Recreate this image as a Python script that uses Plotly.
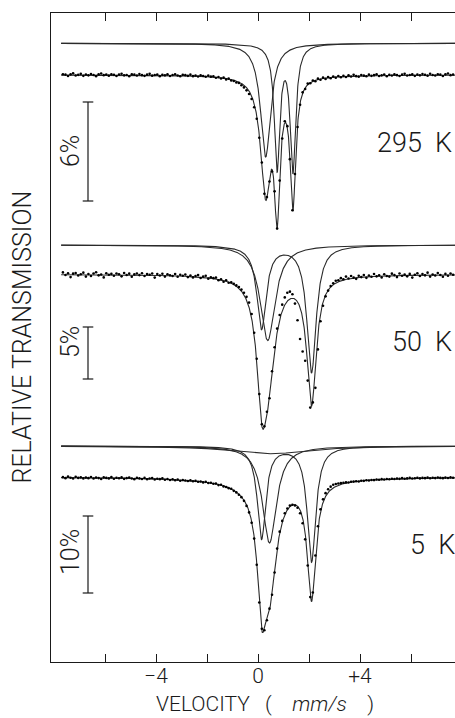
import numpy as np
import plotly.graph_objects as go

# ---------------- data ----------------
# channel velocities (mm/s): equally spaced spectrometer channels
velocity_start = -7.65
velocity_step = 0.10
n_channels = 154
velocity = np.round(velocity_start + velocity_step * np.arange(n_channels), 2)

temperatures = ["295 K", "50 K", "5 K"]
bar_percent = [6, 5, 10]

# relative transmission change (%) per channel
t295 = [
    0.05, 0.02, -0.06, 0.04, 0.10, -0.03, 0.01, 0.07, -0.05, 0.03,
    -0.02, 0.06, 0.00, -0.07, 0.04, 0.09, -0.01, 0.03, -0.04, 0.05,
    0.01, -0.06, 0.03, 0.08, -0.02, 0.00, -0.08, 0.04, 0.02, -0.03,
    0.06, -0.01, -0.05, 0.02, 0.07, -0.04, 0.00, 0.03, -0.07, 0.01,
    -0.02, 0.04, -0.06, 0.00, 0.05, -0.03, -0.08, 0.01, -0.01, -0.05,
    0.02, -0.07, -0.03, -0.09, -0.02, -0.06, -0.11, -0.04, -0.10, -0.08,
    -0.17, -0.12, -0.21, -0.16, -0.27, -0.22, -0.33, -0.36, -0.45, -0.48,
    -0.62, -0.75, -0.93, -1.15, -1.45, -1.95, -2.65, -3.80, -5.30, -7.20,
    -7.40, -6.45, -5.85, -7.05, -9.30, -6.40, -3.85, -2.80, -3.10, -5.10,
    -8.20, -6.00, -3.15, -1.80, -1.05, -0.85, -0.52, -0.50, -0.33, -0.38,
    -0.22, -0.29, -0.16, -0.24, -0.12, -0.20, -0.09, -0.17, -0.06, -0.14,
    -0.05, -0.12, -0.02, -0.09, 0.01, -0.07, -0.10, 0.00, -0.04, -0.08,
    0.02, -0.05, -0.01, 0.04, -0.06, -0.02, 0.03, -0.08, 0.01, -0.03,
    0.05, -0.01, -0.06, 0.02, 0.07, -0.03, 0.00, 0.04, -0.05, 0.03,
    -0.02, 0.06, 0.01, -0.04, 0.08, 0.00, -0.03, 0.05, 0.02, -0.06,
    0.04, 0.09, -0.01, 0.03,
]
t50 = [
    0.20, -0.05, 0.12, -0.25, 0.08, 0.15, -0.10, 0.02, 0.18, -0.20,
    0.05, -0.15, 0.10, 0.22, -0.08, 0.00, -0.28, 0.12, -0.02, 0.06,
    -0.12, 0.10, 0.03, -0.18, 0.14, -0.05, 0.08, -0.22, 0.01, 0.09,
    -0.06, 0.12, -0.15, 0.04, -0.02, 0.10, -0.30, 0.05, -0.10, 0.07,
    -0.20, 0.02, -0.08, -0.14, 0.05, -0.22, -0.03, -0.12, 0.00, -0.25,
    -0.10, -0.28, -0.15, -0.06, -0.33, -0.20, -0.12, -0.40, -0.26, -0.35,
    -0.30, -0.55, -0.45, -0.70, -0.55, -0.80, -0.75, -0.90, -1.05, -1.20,
    -1.45, -1.75, -2.15, -2.70, -3.80, -5.60, -8.10, -11.50, -14.40, -14.60,
    -13.20, -11.90, -9.30, -7.00, -5.20, -3.90, -2.90, -2.20, -1.75, -1.65,
    -1.90, -2.80, -4.40, -6.20, -7.40, -8.30, -10.20, -12.80, -12.30, -10.90,
    -7.20, -4.50, -3.00, -2.10, -1.55, -1.10, -0.85, -0.60, -0.55, -0.35,
    -0.45, -0.20, -0.38, -0.15, -0.30, -0.42, -0.12, -0.25, -0.05, -0.32,
    -0.10, -0.22, 0.05, -0.18, -0.08, -0.28, 0.02, -0.14, -0.20, 0.08,
    -0.06, -0.25, 0.10, -0.12, 0.00, -0.18, 0.06, -0.30, -0.02, 0.12,
    -0.15, 0.04, -0.08, 0.18, -0.20, 0.00, -0.10, 0.14, -0.05, -0.22,
    0.06, -0.12, 0.10, -0.03,
]
t5 = [
    -0.02, -0.15, 0.05, -0.10, -0.20, 0.02, -0.12, -0.05, -0.18, -0.08,
    -0.15, 0.00, -0.20, -0.08, -0.14, -0.25, -0.05, -0.12, -0.18, -0.02,
    -0.22, -0.10, -0.16, -0.05, -0.24, -0.14, -0.08, -0.20, -0.28, -0.12,
    -0.18, -0.26, -0.12, -0.30, -0.20, -0.15, -0.32, -0.22, -0.28, -0.18,
    -0.35, -0.25, -0.38, -0.30, -0.42, -0.33, -0.48, -0.38, -0.45, -0.52,
    -0.42, -0.55, -0.50, -0.62, -0.58, -0.70, -0.63, -0.78, -0.74, -0.88,
    -0.86, -1.05, -1.00, -1.22, -1.30, -1.45, -1.52, -1.80, -2.00, -2.30,
    -2.62, -3.10, -3.75, -4.60, -5.95, -8.00, -11.40, -16.30, -19.70, -19.90,
    -18.60, -17.10, -15.30, -12.40, -9.30, -7.10, -5.70, -4.70, -4.10, -3.70,
    -3.60, -3.70, -4.00, -4.70, -6.00, -8.10, -11.50, -15.60, -15.00, -10.20,
    -6.40, -4.20, -2.90, -2.10, -1.60, -1.25, -1.00, -0.90, -0.85, -0.80,
    -0.75, -0.70, -0.72, -0.62, -0.60, -0.55, -0.58, -0.48, -0.50, -0.42,
    -0.45, -0.38, -0.40, -0.32, -0.36, -0.28, -0.33, -0.25, -0.30, -0.22,
    -0.26, -0.20, -0.24, -0.15, -0.22, -0.18, -0.12, -0.20, -0.16, -0.10,
    -0.18, -0.12, -0.15, -0.08, -0.16, -0.10, -0.14, -0.06, -0.12, -0.15,
    -0.08, -0.13, -0.05, -0.10,
]

# fitted Lorentzian sub-spectra: (centre mm/s, depth %, half width mm/s)
fit295_a = [(0.30, 6.9, 0.24)]
fit295_b = [(0.75, 7.5, 0.13), (1.37, 7.6, 0.13)]
fit50_p = [(0.14, 8.0, 0.22), (2.10, 12.2, 0.22)]
fit50_q = [(0.38, 9.2, 0.35)]
fit5_p = [(0.14, 12.0, 0.20), (2.10, 15.0, 0.20)]
fit5_q = [(0.45, 12.6, 0.33)]
fit5_r = [(0.50, 1.0, 1.8)]

data_sets = [t295, t50, t5]
component_sets = [[fit295_a, fit295_b], [fit50_p, fit50_q], [fit5_p, fit5_q, fit5_r]]

# ---------------- layout geometry (pixels) ----------------
W, H = 455, 718
PLOT_L, PLOT_T, PLOT_B = 51, 13, 662
X0_PX, PX_PER_MMS = 258.0, 25.5
px_per_pct = [16.5, 10.4, 7.7]
zero_px = [75.0, 274.5, 477.0]
comp_base_px = [43.3, 245.0, 446.0]
bar_top_px = [102, 327, 516]
pct_label_px = [151, 342, 552]
temp_label_px = [143, 342, 545]
temp_label_left_px = [375, 390, 408]
bar_x_px, pct_x_px, cap_half_px = 88, 70, 5.3

FONT = "Roboto"
INK = "#1a1a1a"
LINE = "#2a2a2a"
NB = "\u00a0"


def px_to_v(px):
    return (px - X0_PX) / PX_PER_MMS


def px_to_val(i, px):
    return (zero_px[i] - px) / px_per_pct[i]


def absorption(v, lines):
    out = np.zeros_like(v)
    for c, d, g in lines:
        out -= d / (1.0 + ((v - c) / g) ** 2)
    return out


x_range = [px_to_v(PLOT_L), px_to_v(W)]
v_fine = np.linspace(-7.72, x_range[1], 2000)

fig = go.Figure()
axes = ["y", "y2", "y3"]
shapes = []
annotations = []

for i in range(3):
    ya = axes[i]
    comp_off = px_to_val(i, comp_base_px[i])
    all_lines = []
    for comp in component_sets[i]:
        all_lines += comp
        fig.add_trace(go.Scatter(x=v_fine, y=comp_off + absorption(v_fine, comp), mode="lines",
                                 line=dict(color=LINE, width=1.1), yaxis=ya,
                                 hoverinfo="skip", showlegend=False))
    fig.add_trace(go.Scatter(x=v_fine, y=absorption(v_fine, all_lines), mode="lines",
                             line=dict(color=LINE, width=1.1), yaxis=ya,
                             hoverinfo="skip", showlegend=False))
    fig.add_trace(go.Scatter(x=velocity, y=data_sets[i], mode="markers",
                             marker=dict(size=2.6, color="black"), yaxis=ya,
                             showlegend=False))

    # scale bar
    top = px_to_val(i, bar_top_px[i])
    bot = top - bar_percent[i]
    bx = px_to_v(bar_x_px)
    cw = cap_half_px / PX_PER_MMS
    for (x0, y0, x1, y1) in [(bx, top, bx, bot), (bx - cw, top, bx + cw, top), (bx - cw, bot, bx + cw, bot)]:
        shapes.append(dict(type="line", xref="x", yref=ya, x0=x0, y0=y0, x1=x1, y1=y1,
                           line=dict(color=INK, width=1.2)))
    annotations.append(dict(x=px_to_v(pct_x_px), y=px_to_val(i, pct_label_px[i]), xref="x", yref=ya,
                            text=f"{bar_percent[i]}%", textangle=-90, showarrow=False,
                            xanchor="center", yanchor="middle",
                            font=dict(family=FONT, size=25, color=INK, weight=300)))
    annotations.append(dict(x=px_to_v(temp_label_left_px[i]), y=px_to_val(i, temp_label_px[i]),
                            xref="x", yref=ya,
                            text=temperatures[i].replace(" ", NB * 2), showarrow=False,
                            xanchor="left", yanchor="middle",
                            font=dict(family=FONT, size=27, color=INK, weight=300)))

# axis titles
annotations.append(dict(x=0, y=0.5, xref="paper", yref="paper", xshift=-29,
                        text="RELATIVE TRANSMISSION", textangle=-90, showarrow=False,
                        xanchor="center", yanchor="middle",
                        font=dict(family=FONT, size=25, color=INK, weight=300)))
annotations.append(dict(x=(265 - PLOT_L) / (W - PLOT_L), y=0, xref="paper", yref="paper", yshift=-56,
                        text="VELOCITY" + NB * 3 + "(" + NB * 4 + "<i>mm/s</i>" + NB * 4 + ")",
                        showarrow=False, xanchor="center", yanchor="bottom",
                        font=dict(family=FONT, size=21, color=INK, weight=300)))

tick_vals = [-6, -4, -2, 0, 2, 4, 6]
tick_text = ["", "\u22124", "", "0", "", "+4", ""]


def yrange(i):
    return [px_to_val(i, PLOT_B), px_to_val(i, PLOT_T)]


fig.update_layout(
    width=W, height=H,
    margin=dict(l=PLOT_L, r=0, t=PLOT_T, b=H - PLOT_B, pad=0),
    paper_bgcolor="white", plot_bgcolor="white",
    showlegend=False,
    xaxis=dict(range=x_range, tickvals=tick_vals, ticktext=tick_text,
               ticks="inside", ticklen=8, tickwidth=1.2, tickcolor=INK,
               showline=True, linecolor=INK, linewidth=1.2, mirror="ticks",
               showgrid=False, zeroline=False, ticklabelstandoff=-5,
               tickfont=dict(family=FONT, size=21, color=INK, weight=300)),
    yaxis=dict(range=yrange(0), showline=True, linecolor=INK, linewidth=1.2,
               ticks="", showticklabels=False, showgrid=False, zeroline=False),
    yaxis2=dict(range=yrange(1), overlaying="y", visible=False),
    yaxis3=dict(range=yrange(2), overlaying="y", visible=False),
    shapes=shapes,
    annotations=annotations,
)

fig.write_html("out.html", config={"displayModeBar": False},
               post_script="document.body.style.margin='0px';document.body.style.overflow='hidden';")
